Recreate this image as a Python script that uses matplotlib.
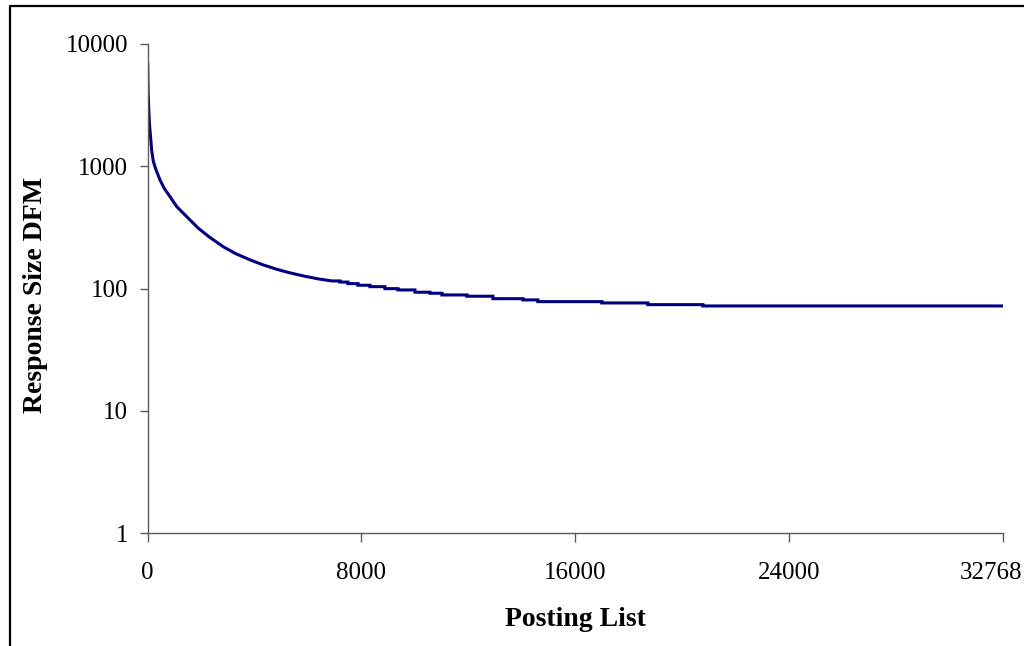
import numpy as np
import matplotlib
matplotlib.use("Agg")
import matplotlib.pyplot as plt
from matplotlib.lines import Line2D
from matplotlib.transforms import ScaledTranslation

# Response size (DFM) along the posting list: steep head, then a stepped plateau
head_x = [0, 15, 60, 150, 210, 300, 460, 620, 834, 1085, 1209, 1500, 1893,
          2300, 2829, 3300, 3828, 4300, 4827, 5300, 5900, 6400]
head_y = [6840, 4080, 2306, 1343, 1100, 950, 774, 660, 565, 469, 440, 380, 312,
          265, 220, 193, 172, 157, 144, 135, 126, 120]
step_x = [6896, 7196, 7495, 7869, 8318, 8879, 9366, 10002, 10563, 11012, 11948,
          12921, 14043, 14604, 16999, 18720, 20778]
step_y = [115.6, 113.2, 109.9, 106.6, 103.8, 100.0, 97.6, 93.5, 91.7, 88.8, 86.7,
          82.8, 80.9, 78.3, 76.4, 74.0, 72.2]
last_x = 32000

x_ticks = [0, 8000, 16000, 24000, 32000]
x_tick_labels = ["0", "8000", "16000", "24000", "32768"]
y_ticks = [1, 10, 100, 1000, 10000]
y_tick_labels = ["1", "10", "100", "1000", "10000"]

# staircase path for the plateau part
sx = np.array(step_x + [last_x], dtype=float)
sy = np.array(step_y, dtype=float)
stair_x = np.repeat(sx, 2)[1:-1]
stair_y = np.repeat(sy, 2)
xs = np.concatenate([head_x, stair_x])
ys = np.concatenate([head_y, stair_y])

plt.rcParams["font.family"] = ["Liberation Serif", "DejaVu Serif"]

fig = plt.figure(figsize=(10.24, 6.46), dpi=100)
ax = fig.add_axes([147.7 / 1024, 1 - 533.3 / 646, 855 / 1024, (533.3 - 44) / 646])

ax.plot(xs, ys, color="#000080", lw=2.2, solid_joinstyle="miter")

ax.set_yscale("log")
ax.set_ylim(1, 10000)
ax.set_xlim(0, last_x)
ax.set_xticks(x_ticks)
ax.set_xticklabels(x_tick_labels)
ax.set_yticks(y_ticks)
ax.set_yticklabels(y_tick_labels)
ax.yaxis.set_minor_locator(matplotlib.ticker.NullLocator())

axis_col = "#5a5a5a"
for side in ("top", "right"):
    ax.spines[side].set_visible(False)
for side in ("left", "bottom"):
    ax.spines[side].set_color(axis_col)
    ax.spines[side].set_linewidth(1.0)

ax.tick_params(axis="x", direction="out", length=6.5, width=1.0, color=axis_col,
               labelsize=18, pad=14, labelcolor="black")
ax.tick_params(axis="y", direction="out", length=6, width=1.0, color=axis_col,
               labelsize=18, pad=8, labelcolor="black")

# pull the last x label inward so it stays inside the figure
last_lbl = ax.get_xticklabels()[-1]
last_lbl.set_transform(last_lbl.get_transform()
                       + ScaledTranslation(-12 / 100, 0, fig.dpi_scale_trans))

fig.text(575 / 1024, 1 - 620 / 646, "Posting List", ha="center", va="center",
         fontsize=20, fontweight="bold")
fig.text(36 / 1024, 1 - 295 / 646, "Response Size DFM", ha="center", va="center",
         rotation=90, fontsize=20, fontweight="bold")

# frame lines along the left and top edges of the figure
fig.add_artist(Line2D([9.5 / 1024, 9.5 / 1024, 1.0], [0.0, 1 - 5.7 / 646, 1 - 5.7 / 646],
                      transform=fig.transFigure, color="black", lw=1.6))

fig.savefig("out.png", dpi=100)
